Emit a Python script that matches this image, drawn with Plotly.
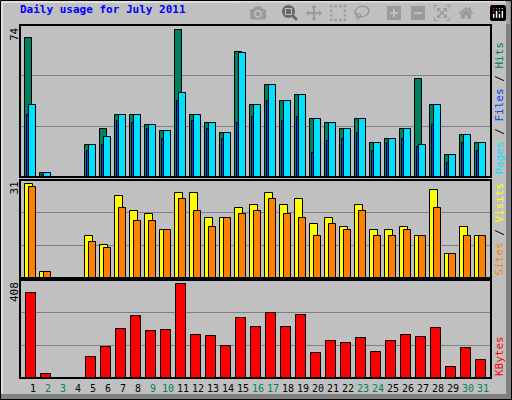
import plotly.graph_objects as go

days = list(range(1, 32))
hits  = [70,2,0,0,16,24,31,31,26,23,74,31,27,22,63,36,46,38,41,29,27,24,29,17,19,24,49,36,11,21,17]
pages = [36,2,0,0,16,20,31,31,26,23,42,31,27,22,62,36,46,38,41,29,27,24,29,17,19,24,16,36,11,21,17]
files = [31,1,0,0,13,16,28,27,24,19,38,28,24,19,27,30,38,28,30,12,18,19,22,13,17,19,15,26,7,17,13]
visits = [31,2,0,0,14,11,27,22,21,16,28,28,20,20,23,24,28,24,26,18,20,17,24,16,16,17,14,29,8,17,14]
sites  = [30,2,0,0,12,10,23,19,19,16,26,22,17,20,21,22,26,21,20,14,18,16,22,14,14,16,14,23,8,14,14]
kbytes = [371,19,0,0,90,135,215,269,206,211,408,188,184,139,260,224,282,224,273,108,162,153,175,113,162,188,180,220,46,131,77]
weekend = [2,3,9,10,16,17,23,24,30,31]
max_labels = ["74", "31", "408"]

W, H = 512, 400
L, R, T, B = 20, 21, 25, 22
pw, ph = W - L - R, H - T - B
def px(x): return (x - L) / pw
def py(y): return (H - B - y) / ph

fig = go.Figure()
line = dict(color="black", width=1)
def bars(vals, off, width, color, ya):
    fig.add_trace(go.Bar(x=[d + off for d in days], y=vals, width=width,
                         marker=dict(color=color, line=line), xaxis="x", yaxis=ya,
                         showlegend=False, hoverinfo="skip"))

bars(hits, -0.28, 0.47, "#00805c", "y")
bars(pages, -0.013, 0.47, "#00e0ff", "y")
bars(files, -0.324, 0.155, "#0040ff", "y")
bars(visits, -0.28, 0.5, "#ffff00", "y2")
bars(sites, -0.013, 0.47, "#ff8000", "y2")
bars(kbytes, -0.114, 0.667, "#ff0000", "y3")

xr = [0.133, 0.133 + pw / 15]
fig.update_layout(
    width=W, height=H, margin=dict(l=L, r=R, t=T, b=B),
    paper_bgcolor="#c0c0c0", plot_bgcolor="#c0c0c0", barmode="overlay", bargap=0,
    xaxis=dict(range=xr, showticklabels=False, showgrid=False, zeroline=False, anchor="y3"),
)
yr = [76.3, 32.4, 427]
doms = [[py(177), 1], [py(278), py(180)], [0, py(280)]]
for i, (ymax, dom) in enumerate(zip(yr, doms)):
    key = "yaxis" if i == 0 else f"yaxis{i+1}"
    fig.layout[key] = dict(range=[0, ymax], domain=dom, tickvals=[ymax / 3, 2 * ymax / 3],
                           showticklabels=False, gridcolor="#808080", gridwidth=1,
                           zeroline=False, anchor="x")
    yref = "y domain" if i == 0 else f"y{i+1} domain"
    fig.add_shape(type="rect", xref="x domain", yref=yref, x0=0, x1=1, y0=0, y1=1,
                  line=dict(color="black", width=2), layer="above")
    fig.add_annotation(text=max_labels[i], xref="paper", yref="paper", x=px(14), y=dom[1],
                       xanchor="center", yanchor="top", showarrow=False, textangle=-90,
                       font=dict(family="DejaVu Sans Mono", size=11, color="black"))

mono = "DejaVu Sans Mono"
right = [
    ("<span style='color:#00e0ff'>Pages</span> / <span style='color:#0040ff'>Files</span> / <span style='color:#00805c'>Hits</span>", doms[0]),
    ("<span style='color:#ff8000'>Sites</span> / <span style='color:#ffff00'>Visits</span>", doms[1]),
    ("<span style='color:#ff0000'>KBytes</span>", doms[2]),
]
for txt, dom in right:
    fig.add_annotation(text=txt, xref="paper", yref="paper", x=px(499), y=dom[0],
                       xanchor="center", yanchor="bottom", showarrow=False, textangle=-90,
                       font=dict(family=mono, size=11, color="black"))

for d in days:
    c = "#00805c" if d in weekend else "black"
    fig.add_annotation(text=str(d), x=d, xref="x", yref="paper", y=py(381), yanchor="top",
                       showarrow=False, font=dict(family=mono, size=10, color=c))

fig.add_annotation(text="<b>Daily usage for July 2011</b>", xref="paper", yref="paper",
                   x=px(18), y=py(9), xanchor="left", yanchor="middle", showarrow=False,
                   font=dict(family=mono, size=11, color="#0000ff"))

# frame
fig.add_shape(type="rect", xref="paper", yref="paper", x0=px(506), x1=px(512), y0=py(0), y1=py(400),
              fillcolor="#808080", line=dict(width=0), layer="below")
fig.add_shape(type="rect", xref="paper", yref="paper", x0=px(0), x1=px(512), y0=py(394), y1=py(400),
              fillcolor="#808080", line=dict(width=0), layer="below")
fig.add_shape(type="rect", xref="paper", yref="paper", x0=px(0.5), x1=px(511.5), y0=py(0.5), y1=py(399.5),
              line=dict(color="black", width=1), layer="above")
fig.add_shape(type="line", xref="paper", yref="paper", x0=px(2), x1=px(2), y0=py(2), y1=py(393),
              line=dict(color="white", width=1))
fig.add_shape(type="line", xref="paper", yref="paper", x0=px(2), x1=px(505), y0=py(2), y1=py(2),
              line=dict(color="white", width=1))

fig.write_html("out.html", post_script="document.body.style.margin='0';document.body.style.overflow='hidden';")
